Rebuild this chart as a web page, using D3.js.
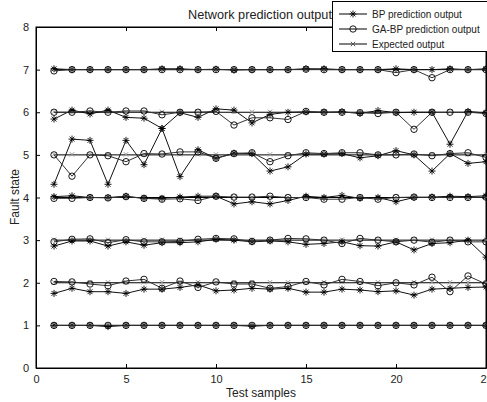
<!DOCTYPE html>
<html><head><meta charset="utf-8">
<script src="https://cdn.jsdelivr.net/npm/d3@7"></script>
<style>html,body{margin:0;padding:0;background:#fff;overflow:hidden}</style>
</head><body>
<svg id="chart" width="487" height="402"></svg>
<script>
const samples = [1,2,3,4,5,6,7,8,9,10,11,12,13,14,15,16,17,18,19,20,21,22,23,24,25];
const xTicks = [0,5,10,15,20,25];
const yTicks = [0,1,2,3,4,5,6,7,8];

const bp1 = [1.0,1.0,1.0,0.97,1.0,1.0,1.0,1.0,1.0,1.0,1.0,0.98,1.0,1.0,1.0,1.0,1.0,1.0,1.0,1.0,1.0,1.0,1.0,1.0,1.0];
const bp2 = [1.75,1.87,1.79,1.79,1.75,1.85,1.85,1.89,1.95,1.81,1.83,1.87,1.85,1.87,1.78,1.78,1.85,1.83,1.79,1.81,1.71,1.85,1.87,1.89,1.90];
const bp3 = [2.86,2.98,2.98,2.86,2.96,2.88,2.94,2.94,2.96,3.02,3.0,2.96,2.98,2.96,2.90,2.92,2.96,2.87,2.86,2.96,2.77,2.92,2.94,3.0,2.60];
const bp4 = [4.02,4.04,4.0,4.0,4.03,3.98,3.98,4.01,4.03,4.03,3.85,3.90,3.85,3.93,4.03,4.0,4.05,3.98,4.0,3.90,4.0,4.01,4.03,4.02,4.04];
const bp5 = [4.31,5.37,5.34,4.31,5.34,4.77,5.62,4.49,5.12,4.92,5.04,5.03,4.62,4.72,5.02,5.02,5.03,4.93,4.98,5.10,5.0,4.62,5.03,4.80,4.84];
const bp6 = [5.84,6.05,5.96,6.05,5.88,5.86,5.62,5.99,5.88,6.08,6.05,5.75,5.95,6.0,6.01,6.0,6.01,5.97,6.04,5.99,6.0,6.0,5.25,6.02,5.98];
const bp7 = [7.02,7.0,7.0,7.0,7.0,7.0,7.02,7.02,7.0,7.01,6.99,7.0,7.0,7.0,7.02,7.02,7.0,7.0,7.0,7.02,7.0,7.0,7.02,7.0,7.02];

const ga1 = [1.0,1.0,1.0,1.0,1.0,1.0,1.0,1.0,1.0,1.0,1.0,1.0,1.0,1.0,1.0,1.0,1.0,1.0,1.0,1.0,1.0,1.0,1.0,1.0,1.0];
const ga2 = [2.03,2.02,1.97,1.93,2.04,2.08,1.87,2.04,1.89,2.02,1.97,1.97,1.87,1.91,2.03,1.95,2.08,2.03,1.93,2.0,1.95,2.13,1.79,2.16,1.97];
const ga3 = [2.96,3.02,3.03,2.94,3.01,2.96,2.96,2.97,3.02,3.04,3.03,2.97,3.0,3.04,3.03,3.0,2.92,3.04,3.0,2.96,3.0,2.95,3.0,2.96,2.96];
const ga4 = [3.98,3.98,4.0,3.99,4.02,3.98,3.96,3.97,3.93,4.03,4.01,4.01,4.03,4.0,4.0,3.96,3.96,4.0,3.96,4.0,4.01,4.0,4.0,4.0,4.01];
const ga5 = [5.0,4.50,5.0,4.98,4.84,5.03,5.02,5.07,5.07,4.92,5.03,5.05,4.84,4.98,5.05,5.03,5.05,5.05,5.0,5.0,5.02,4.98,5.03,5.05,4.94];
const ga6 = [6.0,6.0,6.03,6.0,6.03,6.03,5.94,6.0,6.0,6.02,5.70,5.87,5.87,5.83,6.02,6.0,6.0,5.99,5.97,6.0,5.60,6.0,6.0,6.0,5.97];
const ga7 = [6.97,7.0,7.0,7.0,7.0,7.0,7.0,7.0,7.0,7.0,7.0,7.0,7.0,7.0,7.01,7.0,7.0,7.0,7.0,6.93,7.0,6.81,7.0,7.0,7.0];

const exp1 = [1,1,1,1,1,1,1,1,1,1,1,1,1,1,1,1,1,1,1,1,1,1,1,1,1];
const exp2 = [2,2,2,2,2,2,2,2,2,2,2,2,2,2,2,2,2,2,2,2,2,2,2,2,2];
const exp3 = [3,3,3,3,3,3,3,3,3,3,3,3,3,3,3,3,3,3,3,3,3,3,3,3,3];
const exp4 = [4,4,4,4,4,4,4,4,4,4,4,4,4,4,4,4,4,4,4,4,4,4,4,4,4];
const exp5 = [5,5,5,5,5,5,5,5,5,5,5,5,5,5,5,5,5,5,5,5,5,5,5,5,5];
const exp6 = [6,6,6,6,6,6,6,6,6,6,6,6,6,6,6,6,6,6,6,6,6,6,6,6,6];
const exp7 = [7,7,7,7,7,7,7,7,7,7,7,7,7,7,7,7,7,7,7,7,7,7,7,7,7];

const bpSeries = [bp1,bp2,bp3,bp4,bp5,bp6,bp7];
const gaSeries = [ga1,ga2,ga3,ga4,ga5,ga6,ga7];
const expSeries = [exp1,exp2,exp3,exp4,exp5,exp6,exp7];
const legendLabels = ["BP prediction output","GA-BP prediction output","Expected output"];

const svg = d3.select("#chart");
const L = 36, R = 486, T = 27, B = 368;
const x = d3.scaleLinear().domain([0,25]).range([L,R]);
const y = d3.scaleLinear().domain([0,8]).range([B,T]);
const font = "'Liberation Sans', Arial, sans-serif";
const txt = "#222";

svg.append("rect").attr("x",L).attr("y",T).attr("width",R-L).attr("height",B-T)
  .attr("fill","#fff").attr("stroke","#000").attr("stroke-width",1);

const axB = svg.append("g").attr("transform",`translate(0,${B})`)
  .call(d3.axisBottom(x).tickValues(xTicks).tickSizeInner(-4).tickSizeOuter(0).tickPadding(7));
const axT = svg.append("g").attr("transform",`translate(0,${T})`)
  .call(d3.axisTop(x).tickValues(xTicks).tickSizeInner(-4).tickSizeOuter(0).tickFormat(""));
const axL = svg.append("g").attr("transform",`translate(${L},0)`)
  .call(d3.axisLeft(y).tickValues(yTicks).tickSizeInner(-4).tickSizeOuter(0).tickPadding(7));
const axR = svg.append("g").attr("transform",`translate(${R},0)`)
  .call(d3.axisRight(y).tickValues(yTicks).tickSizeInner(-4).tickSizeOuter(0).tickFormat(""));
[axB,axT,axL,axR].forEach(a=>{
  a.select(".domain").attr("stroke","#000");
  a.selectAll(".tick line").attr("stroke","#000");
  a.selectAll("text").attr("font-family",font).attr("font-size",11).attr("fill",txt);
});

const line = d3.line().x((d,i)=>x(samples[i])).y(d=>y(d));

function star(g, cx, cy, s) {
  const p = `M${cx-s},${cy}L${cx+s},${cy}M${cx},${cy-s}L${cx},${cy+s}` +
            `M${cx-s*0.7},${cy-s*0.7}L${cx+s*0.7},${cy+s*0.7}M${cx-s*0.7},${cy+s*0.7}L${cx+s*0.7},${cy-s*0.7}`;
  g.append("path").attr("d",p).attr("stroke","#000").attr("stroke-width",0.9).attr("fill","none");
}
function xmark(g, cx, cy, s, col) {
  g.append("path").attr("d",`M${cx-s},${cy-s}L${cx+s},${cy+s}M${cx-s},${cy+s}L${cx+s},${cy-s}`)
   .attr("stroke",col).attr("stroke-width",1).attr("fill","none");
}
function circ(g, cx, cy, r) {
  g.append("circle").attr("cx",cx).attr("cy",cy).attr("r",r)
   .attr("fill","none").attr("stroke","#000").attr("stroke-width",0.9);
}

const plot = svg.append("g");
expSeries.forEach(s=>{
  plot.append("path").attr("d",line(s)).attr("fill","none").attr("stroke","#000").attr("stroke-width",1);
  s.forEach((v,i)=>xmark(plot, x(samples[i]), y(v)-0.5, 2.2, "#999"));
});
bpSeries.forEach(s=>{
  plot.append("path").attr("d",line(s)).attr("fill","none").attr("stroke","#111").attr("stroke-width",1);
  s.forEach((v,i)=>star(plot, x(samples[i]), y(v), 3.5));
});
gaSeries.forEach(s=>{
  plot.append("path").attr("d",line(s)).attr("fill","none").attr("stroke","#333").attr("stroke-width",1);
  s.forEach((v,i)=>circ(plot, x(samples[i]), y(v), 3.2));
});

svg.append("text").attr("x",260).attr("y",19).attr("text-anchor","middle")
  .attr("font-family",font).attr("font-size",12.7).attr("fill",txt).text("Network prediction output");
svg.append("text").attr("x",261).attr("y",397).attr("text-anchor","middle")
  .attr("font-family",font).attr("font-size",12).attr("fill",txt).text("Test samples");
svg.append("text").attr("transform","translate(19,197) rotate(-90)").attr("text-anchor","middle")
  .attr("font-family",font).attr("font-size",12).attr("fill",txt).text("Fault state");

const lg = svg.append("g");
lg.append("rect").attr("x",332.5).attr("y",1.5).attr("width",170).attr("height",50)
  .attr("fill","#fff").attr("stroke","#000").attr("stroke-width",1);
legendLabels.forEach((lab,k)=>{
  const cy = 14 + k*15;
  lg.append("line").attr("x1",339).attr("x2",367).attr("y1",cy).attr("y2",cy).attr("stroke","#000");
  if (k===0) star(lg, 353, cy, 3.5);
  if (k===1) circ(lg, 353, cy, 3.2);
  if (k===2) xmark(lg, 353, cy, 2.2, "#555");
  lg.append("text").attr("x",372).attr("y",cy+3.5).attr("font-family",font).attr("font-size",10)
    .attr("fill",txt).text(lab);
});
</script>
</body></html>
